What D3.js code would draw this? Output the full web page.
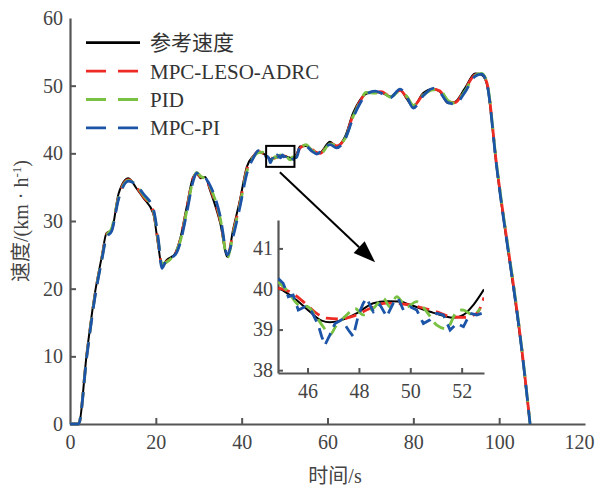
<!DOCTYPE html>
<html>
<head>
<meta charset="utf-8">
<script src="https://cdn.jsdelivr.net/npm/d3@7"></script>
<style>
  body { margin: 0; background: #fff; }
  svg text { font-family: "Liberation Serif", "Times New Roman", "Noto Sans CJK SC", serif; }
</style>
</head>
<body>
<svg id="chart" width="595" height="489"></svg>
<script>
// 主图时间 (s)
const tMain = [0,2,3.9,5.8,7.4,8.5,9.7,11.3,13.6,15.5,17.1,19.4,20.6,21.4,22.5,24.5,25.6,27.2,28.7,29.5,30.5,31.5,32.6,35,36.7,38,39.6,41.2,42.7,43.9,53.6,55,56.4,57.5,58.3,60.6,62.1,64.1,66,67.6,69,71.1,72.5,74.6,76.9,78.5,80,82.3,84.6,86.2,88.1,89.7,92,94.4,95.9,97.1,99.4,105.6,107.2];
const refMain = [0,0,10.4,19.3,24.7,28.2,28.6,34,36.3,34.8,33.4,31.1,26.2,23.3,24.2,25.2,27.2,32.1,36.5,37.0,36.3,36.5,34.6,29.7,24.7,28.7,33.1,38.0,39.6,40.2,41.0,41.1,40.5,40.0,40.1,41.7,41.0,42.5,46,47.9,48.8,49.1,49.0,48.4,49.4,48.0,46.9,48.9,49.5,49.1,47.4,47.6,49.6,51.8,51.6,50.3,38.0,9.0,0];
const lesoMain = [0,0,10.2,19.0,24.5,28.0,28.7,33.6,36.1,35.0,33.6,31.4,26.6,23.5,24.0,25.1,27.0,31.8,36.3,37.0,36.5,36.4,34.9,30.1,24.9,28.3,32.7,37.6,39.5,40.3,40.8,41.2,40.6,40.1,40.0,41.5,41.1,42.3,45.7,47.7,48.9,49.0,49.1,48.5,49.3,48.2,47.0,48.7,49.5,49.2,47.6,47.5,49.4,51.6,51.7,50.5,38.3,9.3,0];
const pidMain = [0,0,10.1,18.9,24.4,27.8,28.9,33.4,36.0,35.2,33.8,31.6,26.9,23.7,23.9,25.3,26.8,31.5,36.1,37.2,36.6,36.2,35.1,30.4,24.6,28.0,32.4,37.3,39.4,40.1,40.7,41.3,40.4,40.2,39.9,41.4,41.2,42.2,45.5,47.6,49.0,48.9,49.2,48.3,49.2,48.4,47.1,48.6,49.4,49.3,47.8,47.4,49.2,51.5,51.8,50.6,38.4,9.4,0];
const piMain = [0,0,9.9,18.7,24.2,27.6,28.5,33.2,35.9,35.3,34.0,31.8,27.2,23.0,24.3,25.0,26.6,31.2,35.9,37.1,36.4,36.3,35.3,30.7,25.0,27.7,32.1,37.0,39.3,40.4,40.9,41.0,40.3,39.9,40.2,41.3,40.8,42.1,45.3,47.4,48.7,49.2,48.9,48.2,49.5,48.3,46.7,48.5,49.6,49.0,47.5,47.3,49.0,51.4,51.7,50.4,38.1,9.2,0];

// 局部放大 45~53 s
const insetRefT = [44.86,45.57,46.09,46.55,46.87,47.26,47.91,48.56,49.08,49.6,49.99,50.77,51.29,51.68,52.07,52.46,52.87];
const insetRefV = [40.04,39.73,39.44,39.22,39.18,39.22,39.40,39.65,39.70,39.69,39.61,39.44,39.34,39.29,39.36,39.61,39.99];
const insetLesoT = [44.86,45.31,45.83,46.35,46.74,47.26,47.78,48.43,49.08,49.73,50.38,51.03,51.55,52.07,52.59,52.87];
const insetLesoV = [40.02,39.93,39.69,39.40,39.28,39.26,39.33,39.52,39.65,39.63,39.55,39.44,39.32,39.30,39.40,39.79];
const insetPidT = [44.86,45.25,45.64,46.03,46.29,46.61,46.87,47.13,47.52,47.85,48.17,48.56,48.95,49.21,49.47,49.86,50.25,50.64,51.03,51.42,51.81,52.07,52.46,52.72];
const insetPidV = [40.18,39.93,39.61,39.56,39.36,39.07,38.87,39.11,39.36,39.52,39.36,39.52,39.77,39.56,39.81,39.56,39.69,39.44,39.11,39.03,39.44,39.48,39.36,39.52];
const insetPiT = [44.86,45.05,45.25,45.44,45.64,45.9,46.16,46.42,46.55,46.68,46.87,47.07,47.33,47.59,47.78,47.98,48.17,48.3,48.56,48.82,49.08,49.34,49.53,49.73,49.99,50.25,50.51,50.77,51.03,51.29,51.55,51.81,52.07,52.33,52.59,52.78];
const insetPiV = [40.26,40.14,39.81,39.85,39.48,39.56,39.44,39.11,38.83,38.62,38.87,39.15,39.24,38.99,38.83,39.36,39.65,39.77,39.44,39.61,39.32,39.65,39.77,39.48,39.56,39.48,39.15,39.24,39.40,39.36,38.99,39.15,39.07,39.40,39.36,39.40];

const seriesNames = ["参考速度", "MPC-LESO-ADRC", "PID", "MPC-PI"];
const xTicks = [0, 20, 40, 60, 80, 100, 120];
const yTicks = [0, 10, 20, 30, 40, 50, 60];
const insetXTicks = [46, 48, 50, 52];
const insetYTicks = [38, 39, 40, 41];
const zoomBox = { t0: 45.7, t1: 52.3, v0: 38.0, v1: 41.1 };
const arrowFrom = [48.9, 37.2], arrowTo = [71.1, 23.9];

const colors = ["#000000", "#ee2a24", "#78c143", "#1c54a8"];
const axisColor = "#555";
const serif = '"Liberation Serif", "Times New Roman", serif';

const svg = d3.select("#chart");
const x = d3.scaleLinear().domain([0, 120]).range([70, 585]);
const y = d3.scaleLinear().domain([0, 60]).range([424, 18]);
const ix = d3.scaleLinear().domain([44.85, 52.87]).range([278, 484]);
const iy = d3.scaleLinear().domain([37.93, 41.7]).range([373, 220]);

const pts = (ts, vs) => ts.map((t, i) => [t, vs[i]]);
const merge = (a, b) => a.concat(b).sort((p, q) => p[0] - q[0]);

const mainData = [
  merge(pts(tMain, refMain), pts(insetRefT, insetRefV)),
  merge(pts(tMain, lesoMain), pts(insetLesoT, insetLesoV)),
  merge(pts(tMain, pidMain), pts(insetPidT, insetPidV)),
  merge(pts(tMain, piMain), pts(insetPiT, insetPiV))
];
const insetData = [
  pts(insetRefT, insetRefV), pts(insetLesoT, insetLesoV),
  pts(insetPidT, insetPidV), pts(insetPiT, insetPiV)
];

function styleAxis(g, size) {
  g.attr("font-family", serif).attr("font-size", size);
  g.select(".domain").attr("stroke", axisColor).attr("stroke-width", 2.2);
  g.selectAll(".tick line").attr("stroke", axisColor).attr("stroke-width", 2);
  g.selectAll(".tick text").attr("fill", "#444");
}

// 主图坐标轴
const gx = svg.append("g").attr("transform", "translate(0,424)")
  .call(d3.axisBottom(x).tickValues(xTicks).tickFormat(d3.format("d"))
    .tickSizeInner(-6).tickSizeOuter(0).tickPadding(11));
styleAxis(gx, 20);
gx.selectAll(".tick line").filter(d => d === 0 || d === 120).remove();
gx.selectAll(".tick text").filter(d => d === 120).attr("dx", -6);

const gy = svg.append("g").attr("transform", "translate(70,0)")
  .call(d3.axisLeft(y).tickValues(yTicks).tickFormat(d3.format("d"))
    .tickSizeInner(-6).tickSizeOuter(0).tickPadding(7));
styleAxis(gy, 20);
gy.selectAll(".tick line").filter(d => d === 0 || d === 60).remove();

// 曲线
const mainLine = d3.line().x(d => x(d[0])).y(d => y(d[1])).curve(d3.curveMonotoneX);
svg.append("g").selectAll("path").data(mainData).join("path")
  .attr("d", mainLine)
  .attr("fill", "none")
  .attr("stroke", (d, i) => colors[i])
  .attr("stroke-width", (d, i) => i === 0 ? 2 : 2.8)
  .attr("stroke-dasharray", (d, i) => i === 0 ? null : "16,9");

// 放大框和箭头
svg.append("rect")
  .attr("x", x(zoomBox.t0)).attr("y", y(zoomBox.v1))
  .attr("width", x(zoomBox.t1) - x(zoomBox.t0))
  .attr("height", y(zoomBox.v0) - y(zoomBox.v1))
  .attr("fill", "none").attr("stroke", "#000").attr("stroke-width", 2);

const ax0 = x(arrowFrom[0]), ay0 = y(arrowFrom[1]);
const ax1 = x(arrowTo[0]), ay1 = y(arrowTo[1]);
const ang = Math.atan2(ay1 - ay0, ax1 - ax0);
const headL = 22, headW = 8;
const bx = ax1 - headL * Math.cos(ang), by = ay1 - headL * Math.sin(ang);
svg.append("line").attr("x1", ax0).attr("y1", ay0).attr("x2", bx).attr("y2", by)
  .attr("stroke", "#000").attr("stroke-width", 2);
svg.append("path")
  .attr("d", `M${ax1},${ay1}L${bx + headW * Math.sin(ang)},${by - headW * Math.cos(ang)}L${bx - headW * Math.sin(ang)},${by + headW * Math.cos(ang)}Z`)
  .attr("fill", "#000");

// 局部放大图
svg.append("clipPath").attr("id", "insetClip").append("rect")
  .attr("x", 278).attr("y", 214).attr("width", 206).attr("height", 159);

const gix = svg.append("g").attr("transform", "translate(0,373)")
  .call(d3.axisBottom(ix).tickValues(insetXTicks).tickFormat(d3.format("d"))
    .tickSizeInner(-5).tickSizeOuter(0).tickPadding(11));
styleAxis(gix, 20);
const giy = svg.append("g").attr("transform", "translate(278,0)")
  .call(d3.axisLeft(iy).tickValues(insetYTicks).tickFormat(d3.format("d"))
    .tickSizeInner(-5).tickSizeOuter(0).tickPadding(5));
styleAxis(giy, 20);

const insetLine = d3.line().x(d => ix(d[0])).y(d => iy(d[1]));
const insetCurves = [d3.curveMonotoneX, d3.curveMonotoneX, d3.curveCatmullRom, d3.curveLinear];
svg.append("g").attr("clip-path", "url(#insetClip)")
  .selectAll("path").data(insetData).join("path")
  .attr("d", (d, i) => insetLine.curve(insetCurves[i])(d))
  .attr("fill", "none")
  .attr("stroke", (d, i) => colors[i])
  .attr("stroke-width", (d, i) => i === 0 ? 2 : 2.8)
  .attr("stroke-dasharray", (d, i) => i === 0 ? null : "12,7");

// 图例
const legend = svg.append("g").selectAll("g").data(seriesNames).join("g")
  .attr("transform", (d, i) => `translate(86,${42.7 + i * 28.4})`);
legend.append("line").attr("x1", 0).attr("x2", 54)
  .attr("stroke", (d, i) => colors[i])
  .attr("stroke-width", 2.8)
  .attr("stroke-dasharray", (d, i) => i === 0 ? null : "20,12");
legend.append("text").attr("x", 64).attr("y", 7.5)
  .attr("fill", "#333").style("font-size", "21px").text(d => d);

// 坐标轴标题
svg.append("text").attr("x", 335).attr("y", 483).attr("text-anchor", "middle")
  .attr("fill", "#444").style("font-size", "20px").text("时间/s");

const yt = svg.append("text")
  .attr("transform", "translate(28,221) rotate(-90)")
  .attr("text-anchor", "middle").attr("fill", "#444").style("font-size", "20px");
yt.append("tspan").text("速度/(km · h");
yt.append("tspan").attr("dy", -7).style("font-size", "13px").text("-1");
yt.append("tspan").attr("dy", 7).text(")");
</script>
</body>
</html>
